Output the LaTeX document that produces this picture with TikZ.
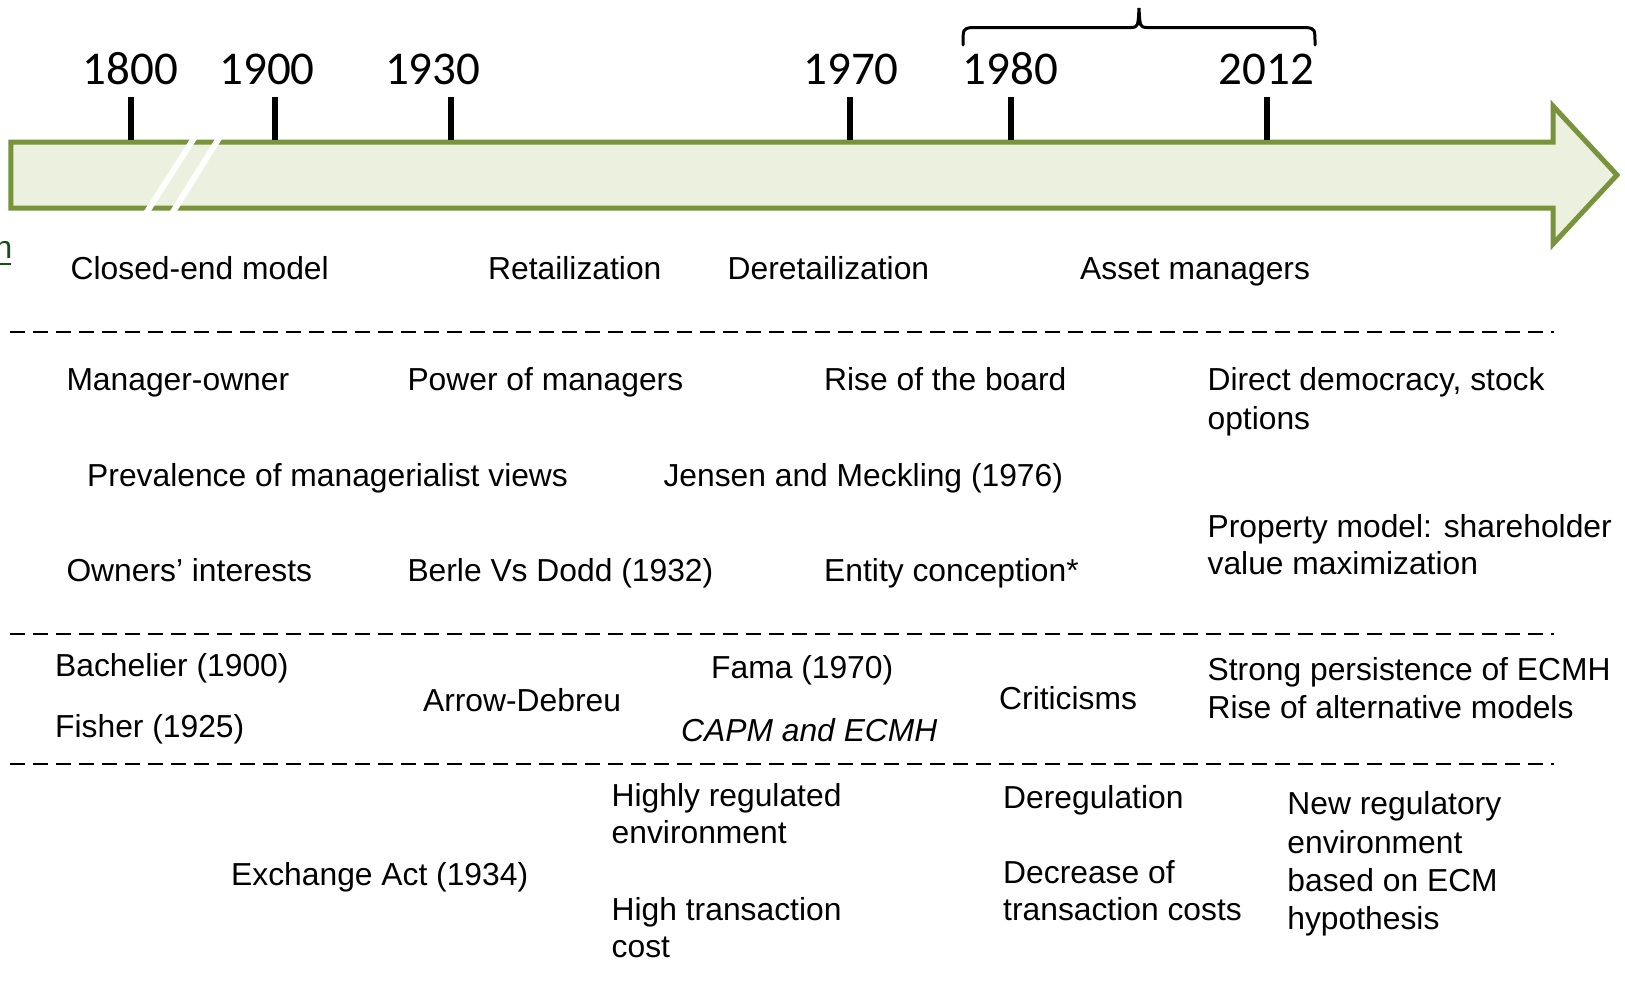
\documentclass[tikz,border=0pt]{standalone}
\usepackage{fontspec}
\setmainfont{Liberation Sans}
\newfontfamily\yearfont{Carlito}
\definecolor{barline}{RGB}{119,147,60}
\definecolor{barfill}{RGB}{235,241,222}
\definecolor{linkgreen}{RGB}{20,80,20}
\begin{document}
\begin{tikzpicture}[x=1pt,y=-1pt,
  lbl/.style={anchor=base west,inner sep=0pt,font=\fontsize{31.8}{38}\selectfont},
  yr/.style={anchor=base,inner sep=0pt,font=\yearfont\fontsize{47}{50}\selectfont},
  tick/.style={line width=5.6pt},
  sep/.style={line width=2pt,dash pattern=on 15pt off 8pt}]
\useasboundingbox (0,0) rectangle (1625,986);

% timeline arrow
\draw[barline,fill=barfill,line width=5pt,line join=miter]
  (10.8,142) -- (1553,142) -- (1553,106) -- (1617,175) -- (1553,244)
  -- (1553,208) -- (10.8,208) -- cycle;
% axis break
\fill[white] (190,139) -- (197,139) -- (151,211) -- (144,211) -- cycle;
\fill[white] (215,139) -- (222,139) -- (177,211) -- (170,211) -- cycle;

% year ticks and labels
\foreach \name/\tx/\lx/\yy in {y1800/131/130.6/1800, y1900/275/267/1900,
    y1930/451/432.7/1930, y1970/850/851/1970, y1980/1011/1010.5/1980,
    y2012/1266.7/1266.5/2012} {
  \draw[tick] (\tx,97) -- (\tx,140);
  \node[yr] (\name) at (\lx,84) {\yy};
}

% brace over 1980--2012
\draw[line width=3pt,line cap=round]
  (963,45) .. controls (963,29) .. (971,27.5) -- (1131,27.5)
  .. controls (1138,27) .. (1139,8) .. controls (1140,27) .. (1147,27.5)
  -- (1307,27.5) .. controls (1315,29) .. (1315,45);

% partly hidden link text
\node[anchor=base east,inner sep=0pt,text=linkgreen,font=\fontsize{31.8}{38}\selectfont] (lnk) at (12.5,258) {n};
\draw[linkgreen,line width=2.5pt] (-20,264) -- (11,264);

% row separators
\draw[sep] (10.4,331.6) -- (1554,331.6);
\draw[sep] (10.4,634) -- (1554,634);
\draw[sep] (10.4,764) -- (1554,764);

% funds
\node[lbl] (closed) at (70.5,279) {Closed-end model};
\node[lbl] (retail) at (488,279) {Retailization};
\node[lbl] (deretail) at (727.5,279) {Deretailization};
\node[lbl] (asset) at (1080,279) {Asset managers};

% governance
\node[lbl] (mo) at (66.3,390.8) {Manager-owner};
\node[lbl] (pom) at (407.3,390.8) {Power of managers};
\node[lbl] (rob) at (824,390.8) {Rise of the board};
\node[lbl] (dd1) at (1207.4,390.8) {Direct democracy, stock};
\node[lbl] (dd2) at (1207.4,429) {options};
\node[lbl] (prev) at (87,486.2) {Prevalence of managerialist views};
\node[lbl] (jm) at (663.3,486.2) {Jensen and Meckling (1976)};
\node[lbl] (pm1) at (1207.4,537) {Property model: shareholder};
\node[lbl] (pm2) at (1207.4,574.3) {value maximization};
\node[lbl] (oi) at (66.3,581.5) {Owners’ interests};
\node[lbl] (bd) at (407.3,581.5) {Berle Vs Dodd (1932)};
\node[lbl] (ec) at (824,581.5) {Entity conception*};

% finance theory
\node[lbl] (bach) at (55,676.9) {Bachelier (1900)};
\node[lbl] (fish) at (55,737) {Fisher (1925)};
\node[lbl] (ad) at (422.9,711) {Arrow-Debreu};
\node[lbl] (fama) at (711,678) {Fama (1970)};
\node[lbl] (capm) at (681,741) {\itshape CAPM and ECMH};
\node[lbl] (crit) at (999,709) {Criticisms};
\node[lbl] (strong) at (1207.4,680) {Strong persistence of ECMH};
\node[lbl] (alt) at (1207.4,718.3) {Rise of alternative models};

% regulation
\node[lbl] (hr1) at (611.5,806.4) {Highly regulated};
\node[lbl] (hr2) at (611.5,843.7) {environment};
\node[lbl] (ea) at (231,885) {Exchange Act (1934)};
\node[lbl] (ht1) at (611.5,920.4) {High transaction};
\node[lbl] (ht2) at (611.5,957.7) {cost};
\node[lbl] (dereg) at (1003,808.5) {Deregulation};
\node[lbl] (dec1) at (1003,883) {Decrease of};
\node[lbl] (dec2) at (1003,920.4) {transaction costs};
\node[lbl] (nr1) at (1287.2,814.7) {New regulatory};
\node[lbl] (nr2) at (1287.2,853) {environment};
\node[lbl] (nr3) at (1287.2,891.4) {based on ECM};
\node[lbl] (nr4) at (1287.2,929.8) {hypothesis};
\end{tikzpicture}
\end{document}
